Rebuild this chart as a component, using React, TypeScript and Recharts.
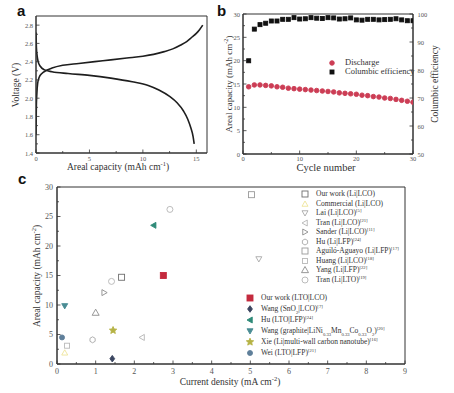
import React from 'react';
import { LineChart, Line, XAxis, YAxis, ScatterChart, Scatter, ReferenceArea, Legend } from 'recharts';

const SERIF = '"Liberation Serif", "Times New Roman", serif';
const SANS = '"Liberation Sans", Arial, sans-serif';
const AXIS = '#333';
const TICKTXT = '#555';

// ---------- panel a : charge / discharge curves ----------
const chargeCapacity = [0, 0.03, 0.08, 0.15, 0.3, 0.55, 0.9, 1.5, 2.5, 4, 5.5, 7, 8.5, 10, 11, 12, 12.8, 13.5, 14.1, 14.6, 15.0, 15.3, 15.6];
const chargeVoltage = [1.6, 1.9, 2.05, 2.16, 2.23, 2.27, 2.3, 2.33, 2.36, 2.38, 2.4, 2.42, 2.44, 2.46, 2.48, 2.51, 2.54, 2.58, 2.62, 2.67, 2.71, 2.75, 2.8];
const dischargeCapacity = [0, 0.04, 0.1, 0.2, 0.4, 0.8, 1.5, 3, 5, 7, 9, 10.5, 11.5, 12.5, 13.2, 13.8, 14.2, 14.5, 14.7, 14.8];
const dischargeVoltage = [2.72, 2.55, 2.47, 2.4, 2.35, 2.31, 2.29, 2.27, 2.25, 2.22, 2.18, 2.14, 2.09, 2.02, 1.95, 1.86, 1.77, 1.67, 1.58, 1.5];
const aXTicks = [0, 2.5, 5, 7.5, 10, 12.5, 15];
const aXMajor = [0, 5, 10, 15];
const aYTicks = [1.4, 1.5, 1.6, 1.7, 1.8, 1.9, 2.0, 2.1, 2.2, 2.3, 2.4, 2.5, 2.6, 2.7, 2.8];
const aYMajor = [1.4, 1.6, 1.8, 2.0, 2.2, 2.4, 2.6, 2.8];

// ---------- panel b : cycling ----------
const cycleNumber = [1, 2, 3, 4, 5, 6, 7, 8, 9, 10, 11, 12, 13, 14, 15, 16, 17, 18, 19, 20, 21, 22, 23, 24, 25, 26, 27, 28, 29, 30];
const dischargeAreal = [14.4, 14.8, 14.8, 14.7, 14.6, 14.4, 14.3, 14.1, 14.0, 13.9, 13.8, 13.7, 13.6, 13.5, 13.4, 13.3, 13.1, 13.0, 12.9, 12.8, 12.6, 12.5, 12.3, 12.2, 12.0, 11.9, 11.7, 11.5, 11.3, 11.1];
const columbicEfficiency = [83.3, 94.6, 96.2, 96.7, 97.5, 97.5, 98.1, 98.1, 98.7, 98.2, 98.3, 98.7, 98.5, 98.4, 98.7, 98.6, 98.2, 98.3, 98.6, 97.9, 97.8, 98.1, 98.1, 97.9, 98.0, 98.1, 98.3, 97.9, 97.6, 97.6];
const bXTicks = [0, 5, 10, 15, 20, 25, 30];
const bXMajor = [0, 10, 20, 30];
const bYTicks = [0, 2.5, 5, 7.5, 10, 12.5, 15, 17.5, 20, 22.5, 25, 27.5, 30];
const bYMajor = [0, 5, 10, 15, 20, 25, 30];
const bRTicks = [50, 55, 60, 65, 70, 75, 80, 85, 90, 95, 100];
const bRMajor = [50, 60, 70, 80, 90, 100];

// ---------- panel c : literature comparison ----------
const cSeriesNames = [
  'Our work (Li|LCO)', 'Commercial (Li|LCO)', 'Lai (Li|LCO)', 'Tran (Li|LCO)', 'Sander (Li|LCO)',
  'Hu (Li|LFP)', 'Aguiló-Aguayo  (Li|LFP)', 'Huang (Li|LCO)', 'Yang  (Li|LFP)', 'Tran (Li|LTO)',
  'Our work (LTO|LCO)', 'Wang (SnO_{2}|LCO)', 'Hu (LTO|LFP)',
  'Wang (graphite|LiNi_{0.33}Mn_{0.33}Co_{0.33}O_{2})', 'Xie (Li|multi-wall carbon nanotube)', 'Wei (LTO|LFP)',
];
const cSeriesRefs = ['', '', '[5]', '[21]', '[11]', '[24]', '[17]', '[18]', '[22]', '[19]', '', '[7]', '[24]', '[20]', '[16]', '[21]'];
const cCurrentDensity = [[1.67], [0.2], [5.22], [2.2], [1.22], [0.92], [5.03], [0.26], [1.0], [1.41, 2.92], [2.75], [1.43], [2.5], [0.2], [1.45], [0.13]];
const cArealCapacity = [[14.7], [1.9], [17.8], [4.5], [12.1], [4.1], [28.7], [3.1], [8.7], [14.0, 26.2], [15.0], [0.9], [23.5], [9.85], [5.7], [4.5]];
const cXTicks = [0, 0.5, 1, 1.5, 2, 2.5, 3, 3.5, 4, 4.5, 5, 5.5, 6, 6.5, 7, 7.5, 8, 8.5, 9];
const cXMajor = [0, 1, 2, 3, 4, 5, 6, 7, 8, 9];
const cYTicks = [0, 2.5, 5, 7.5, 10, 12.5, 15, 17.5, 20, 22.5, 25, 27.5, 30];
const cYMajor = [0, 5, 10, 15, 20, 25, 30];

// marker styles for panel c (not data)
const cMarkerStyle = [
  { kind: 'square', color: '#6e6e6e', filled: false, size: 6 },
  { kind: 'triUp', color: '#eee49a', filled: false, size: 6 },
  { kind: 'triDown', color: '#a8a8a8', filled: false, size: 6 },
  { kind: 'triLeft', color: '#b4b4b4', filled: false, size: 6 },
  { kind: 'triRight', color: '#8c8c8c', filled: false, size: 6 },
  { kind: 'hexagon', color: '#a8a8a8', filled: false, size: 6 },
  { kind: 'square', color: '#9a9a9a', filled: false, size: 6 },
  { kind: 'square', color: '#b8b8b8', filled: false, size: 5 },
  { kind: 'triUp', color: '#8c8c8c', filled: false, size: 7 },
  { kind: 'circle', color: '#b4b4b4', filled: false, size: 6 },
  { kind: 'square', color: '#c42a3e', filled: true, size: 6 },
  { kind: 'diamond', color: '#3b4660', filled: true, size: 6 },
  { kind: 'triLeft', color: '#2f8a78', filled: true, size: 6 },
  { kind: 'triDown', color: '#4a8c94', filled: true, size: 6 },
  { kind: 'star', color: '#b5b244', filled: true, size: 7 },
  { kind: 'circle', color: '#5f7f9a', filled: true, size: 5 },
];

function Marker({ kind, cx, cy, s, color, filled }: any) {
  const fill = filled ? color : 'none';
  const sw = 0.9;
  const h = s / 2;
  const poly = (pts: number[][]) => (
    <polygon points={pts.map((p) => `${cx + p[0]},${cy + p[1]}`).join(' ')} fill={fill} stroke={color} strokeWidth={sw} />
  );
  switch (kind) {
    case 'square':
      return <rect x={cx - h} y={cy - h} width={s} height={s} fill={fill} stroke={color} strokeWidth={sw} />;
    case 'circle':
      return <circle cx={cx} cy={cy} r={h} fill={fill} stroke={color} strokeWidth={sw} />;
    case 'triUp':
      return poly([[0, -h], [h, h * 0.75], [-h, h * 0.75]]);
    case 'triDown':
      return poly([[0, h], [h, -h * 0.75], [-h, -h * 0.75]]);
    case 'triLeft':
      return poly([[-h, 0], [h * 0.75, -h], [h * 0.75, h]]);
    case 'triRight':
      return poly([[h, 0], [-h * 0.75, -h], [-h * 0.75, h]]);
    case 'diamond':
      return poly([[0, -h * 1.1], [h * 0.8, 0], [0, h * 1.1], [-h * 0.8, 0]]);
    case 'hexagon': {
      const pts: number[][] = [];
      for (let i = 0; i < 6; i++) {
        const a = (Math.PI / 3) * i + Math.PI / 6;
        pts.push([h * Math.cos(a), h * Math.sin(a)]);
      }
      return poly(pts);
    }
    case 'star': {
      const pts: number[][] = [];
      for (let i = 0; i < 10; i++) {
        const a = (Math.PI / 5) * i - Math.PI / 2;
        const r = i % 2 === 0 ? h * 1.1 : h * 0.5;
        pts.push([r * Math.cos(a), r * Math.sin(a)]);
      }
      return poly(pts);
    }
    default:
      return <circle cx={cx} cy={cy} r={h} fill={fill} stroke={color} />;
  }
}

type TickOpts = { orient: 'bottom' | 'left' | 'right'; majors: number[]; fs: number; gap: number; digits?: number };
const makeTick = (o: TickOpts) => (props: any) => {
  const { x, y, payload } = props;
  const v = Number(payload.value);
  const isMajor = o.majors.some((m) => Math.abs(m - v) < 1e-6);
  const len = isMajor ? 3.5 : 2;
  const label = isMajor ? (o.digits != null ? v.toFixed(o.digits) : String(v)) : '';
  const common = { fontFamily: SERIF, fontSize: o.fs, fill: TICKTXT };
  if (o.orient === 'bottom') {
    return (
      <g>
        <line x1={x} y1={y} x2={x} y2={y - len} stroke={AXIS} strokeWidth={0.8} />
        {label && (
          <text x={x} y={y + o.gap} textAnchor="middle" dominantBaseline="central" {...common}>
            {label}
          </text>
        )}
      </g>
    );
  }
  if (o.orient === 'left') {
    return (
      <g>
        <line x1={x} y1={y} x2={x + len} y2={y} stroke={AXIS} strokeWidth={0.8} />
        {label && (
          <text x={x - o.gap} y={y} textAnchor="end" dominantBaseline="central" {...common}>
            {label}
          </text>
        )}
      </g>
    );
  }
  return (
    <g>
      <line x1={x} y1={y} x2={x - len} y2={y} stroke={AXIS} strokeWidth={0.8} />
      {label && (
        <text x={x + o.gap} y={y} textAnchor="start" dominantBaseline="central" {...common}>
          {label}
        </text>
      )}
    </g>
  );
};

type Part = { t: string; sup?: boolean };
function Title({ px, py, rot, fs, parts }: any) {
  let shift = 0;
  const nodes = (parts as Part[]).map((p, i) => {
    const target = p.sup ? -fs * 0.38 : 0;
    const dy = target - shift;
    shift = target;
    return (
      <tspan key={i} dy={dy} fontSize={p.sup ? fs * 0.68 : fs}>
        {p.t}
      </tspan>
    );
  });
  return (
    <text
      x={px}
      y={py}
      textAnchor="middle"
      dominantBaseline="central"
      transform={rot ? `rotate(${rot} ${px} ${py})` : undefined}
      fontFamily={SERIF}
      fontSize={fs}
      fill="#333"
    >
      {nodes}
    </text>
  );
}

function RichName({ name, refTag }: { name: string; refTag: string }) {
  const pieces = name.split(/(_\{[^}]*\})/);
  return (
    <span>
      {pieces.map((p, i) =>
        p.startsWith('_{') ? (
          <sub key={i} style={{ fontSize: '0.62em', verticalAlign: 'sub', lineHeight: 0 }}>
            {p.slice(2, -1)}
          </sub>
        ) : (
          <span key={i}>{p}</span>
        )
      )}
      {refTag && <sup style={{ fontSize: '0.62em', verticalAlign: 'super', lineHeight: 0 }}>{refTag}</sup>}
    </span>
  );
}

function LegendRow({ mx, tx, cy, fs, marker, children }: any) {
  return (
    <>
      <svg style={{ position: 'absolute', left: mx - 6, top: cy - 6, overflow: 'visible' }} width={12} height={12}>
        <Marker kind={marker.kind} cx={6} cy={6} s={marker.size} color={marker.color} filled={marker.filled} />
      </svg>
      <div
        style={{
          position: 'absolute',
          left: tx,
          top: cy - fs * 0.65,
          fontSize: fs,
          lineHeight: `${fs * 1.3}px`,
          whiteSpace: 'nowrap',
          fontFamily: SERIF,
          color: '#333',
        }}
      >
        {children}
      </div>
    </>
  );
}

function CLegend() {
  return (
    <div style={{ position: 'relative', width: 0, height: 0 }}>
      {cSeriesNames.map((n, i) => {
        const open = i < 10;
        const cy = open ? 24 + 9.5 * i : 127.7 + 11.1 * (i - 10);
        return (
          <LegendRow key={i} mx={open ? 305 : 250} tx={open ? 316 : 261} cy={cy} fs={7.5} marker={cMarkerStyle[i]}>
            <RichName name={n} refTag={cSeriesRefs[i]} />
          </LegendRow>
        );
      })}
    </div>
  );
}

function BLegend() {
  return (
    <div style={{ position: 'relative', width: 0, height: 0 }}>
      <LegendRow mx={110} tx={123} cy={63} fs={8.5} marker={{ kind: 'circle', color: '#cc3d55', filled: true, size: 4.6 }}>
        Discharge
      </LegendRow>
      <LegendRow mx={110} tx={123} cy={72} fs={8.5} marker={{ kind: 'square', color: '#111', filled: true, size: 4 }}>
        Columbic efficiency
      </LegendRow>
    </div>
  );
}

const chargeData = chargeCapacity.map((c, i) => ({ cap: c, v: chargeVoltage[i] }));
const dischargeData = dischargeCapacity.map((c, i) => ({ cap: c, v: dischargeVoltage[i] }));
const bDischargeData = cycleNumber.map((c, i) => ({ x: c, y: dischargeAreal[i] }));
const bCEData = cycleNumber.map((c, i) => ({ x: c, y: columbicEfficiency[i] }));
const cData = cSeriesNames.map((_, i) => cCurrentDensity[i].map((x, j) => ({ x, y: cArealCapacity[i][j] })));

const letter = (t: string, left: number, top: number) => (
  <div style={{ position: 'absolute', left, top, fontFamily: SANS, fontWeight: 'bold', fontSize: 15, lineHeight: '15px', color: '#111' }}>
    {t}
  </div>
);

export default function App() {
  return (
    <div style={{ position: 'absolute', left: 0, top: 0, width: 454, height: 393, background: '#fff', overflow: 'hidden' }}>
      {/* Panel a */}
      <div style={{ position: 'absolute', left: 0, top: 0 }}>
        <LineChart width={220} height={180} margin={{ top: 16, right: 13, bottom: 0, left: 0 }}>
          <XAxis
            type="number"
            dataKey="cap"
            domain={[0, 16]}
            ticks={aXTicks}
            interval={0}
            allowDataOverflow
            height={27}
            tickSize={0}
            tickMargin={0}
            tickLine={false}
            axisLine={{ stroke: AXIS }}
            tick={makeTick({ orient: 'bottom', majors: aXMajor, fs: 6.5, gap: 5 })}
            label={<Title px={118} py={167} fs={9.5} parts={[{ t: 'Areal capacity (mAh cm' }, { t: '-1', sup: true }, { t: ')' }]} />}
          />
          <YAxis
            type="number"
            dataKey="v"
            domain={[1.4, 2.9]}
            ticks={aYTicks}
            interval={0}
            allowDataOverflow
            width={36}
            tickSize={0}
            tickMargin={0}
            tickLine={false}
            axisLine={{ stroke: AXIS }}
            tick={makeTick({ orient: 'left', majors: aYMajor, fs: 6.5, gap: 3, digits: 1 })}
            label={<Title px={16} py={85} rot={-90} fs={9.5} parts={[{ t: 'Voltage (V)' }]} />}
          />
          <ReferenceArea x1={0} x2={16} y1={1.4} y2={2.9} fill="none" stroke={AXIS} strokeWidth={1} />
          <Line data={chargeData} dataKey="v" type="monotone" stroke="#1e1e1e" strokeWidth={1.6} dot={false} isAnimationActive={false} />
          <Line data={dischargeData} dataKey="v" type="monotone" stroke="#1e1e1e" strokeWidth={1.6} dot={false} isAnimationActive={false} />
        </LineChart>
      </div>

      {/* Panel b */}
      <div style={{ position: 'absolute', left: 222, top: 0 }}>
        <ScatterChart width={232} height={180} margin={{ top: 14, right: 0, bottom: 0, left: 0 }}>
          <XAxis
            type="number"
            dataKey="x"
            domain={[0, 30]}
            ticks={bXTicks}
            interval={0}
            allowDataOverflow
            height={26}
            tickSize={0}
            tickMargin={0}
            tickLine={false}
            axisLine={{ stroke: AXIS }}
            tick={makeTick({ orient: 'bottom', majors: bXMajor, fs: 6.5, gap: 4.5 })}
            label={<Title px={104} py={167} fs={10.5} parts={[{ t: 'Cycle number' }]} />}
          />
          <YAxis
            yAxisId="l"
            type="number"
            dataKey="y"
            domain={[0, 30]}
            ticks={bYTicks}
            interval={0}
            allowDataOverflow
            width={21}
            tickSize={0}
            tickMargin={0}
            tickLine={false}
            axisLine={{ stroke: AXIS }}
            tick={makeTick({ orient: 'left', majors: bYMajor, fs: 6.5, gap: 3 })}
            label={<Title px={7} py={84} rot={-90} fs={9} parts={[{ t: 'Areal capacity (mAh cm' }, { t: '-2', sup: true }, { t: ')' }]} />}
          />
          <YAxis
            yAxisId="r"
            orientation="right"
            type="number"
            dataKey="y"
            domain={[50, 100]}
            ticks={bRTicks}
            interval={0}
            allowDataOverflow
            width={41}
            tickSize={0}
            tickMargin={0}
            tickLine={false}
            axisLine={{ stroke: AXIS }}
            tick={makeTick({ orient: 'right', majors: bRMajor, fs: 6.5, gap: 4.5 })}
            label={<Title px={213} py={84} rot={-90} fs={9.5} parts={[{ t: 'Columbic efficiency' }]} />}
          />
          <ReferenceArea yAxisId="l" x1={0} x2={30} y1={0} y2={30} fill="none" stroke={AXIS} strokeWidth={1} />
          <Scatter
            yAxisId="l"
            data={bDischargeData}
            isAnimationActive={false}
            shape={(p: any) => <Marker kind="circle" cx={p.cx} cy={p.cy} s={4.6} color="#cc3d55" filled />}
          />
          <Scatter
            yAxisId="r"
            data={bCEData}
            isAnimationActive={false}
            shape={(p: any) => <Marker kind="square" cx={p.cx} cy={p.cy} s={4} color="#111" filled />}
          />
          <Legend layout="vertical" align="center" verticalAlign="middle" wrapperStyle={{ left: 0, top: 0 }} content={() => <BLegend />} />
        </ScatterChart>
      </div>

      {/* Panel c */}
      <div style={{ position: 'absolute', left: 0, top: 170 }}>
        <ScatterChart width={454} height={223} margin={{ top: 17, right: 49, bottom: 0, left: 0 }}>
          <XAxis
            type="number"
            dataKey="x"
            domain={[0, 9]}
            ticks={cXTicks}
            interval={0}
            allowDataOverflow
            height={29}
            tickSize={0}
            tickMargin={0}
            tickLine={false}
            axisLine={{ stroke: AXIS }}
            tick={makeTick({ orient: 'bottom', majors: cXMajor, fs: 8, gap: 7 })}
            label={<Title px={230} py={212} fs={9.5} parts={[{ t: 'Current density (mA cm' }, { t: '-2', sup: true }, { t: ')' }]} />}
          />
          <YAxis
            type="number"
            dataKey="y"
            domain={[0, 30]}
            ticks={cYTicks}
            interval={0}
            allowDataOverflow
            width={57}
            tickSize={0}
            tickMargin={0}
            tickLine={false}
            axisLine={{ stroke: AXIS }}
            tick={makeTick({ orient: 'left', majors: cYMajor, fs: 8, gap: 4 })}
            label={<Title px={37} py={106} rot={-90} fs={9.5} parts={[{ t: 'Areal capacity (mAh cm' }, { t: '-2', sup: true }, { t: ')' }]} />}
          />
          <ReferenceArea x1={0} x2={9} y1={0} y2={30} fill="none" stroke={AXIS} strokeWidth={1} />
          {cData.map((d, i) => (
            <Scatter
              key={i}
              name={cSeriesNames[i]}
              data={d}
              isAnimationActive={false}
              shape={(p: any) => (
                <Marker kind={cMarkerStyle[i].kind} cx={p.cx} cy={p.cy} s={cMarkerStyle[i].size} color={cMarkerStyle[i].color} filled={cMarkerStyle[i].filled} />
              )}
            />
          ))}
          <Legend layout="vertical" align="center" verticalAlign="middle" wrapperStyle={{ left: 0, top: 0 }} content={() => <CLegend />} />
        </ScatterChart>
      </div>

      {letter('a', 17, 2.5)}
      {letter('b', 217, 2.5)}
      {letter('c', 18, 171)}
    </div>
  );
}
